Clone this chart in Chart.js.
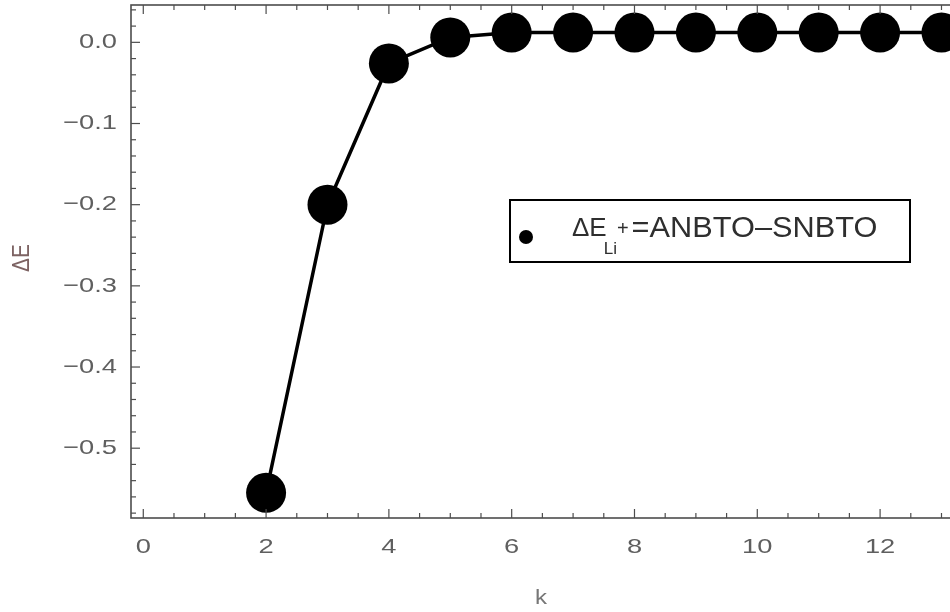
<!DOCTYPE html>
<html><head><meta charset="utf-8">
<script src="https://cdn.jsdelivr.net/npm/chart.js@4.4.1/dist/chart.umd.min.js"></script>
<style>html,body{margin:0;padding:0;background:#fff;overflow:hidden;}#wrap{width:950px;height:612px;position:relative;overflow:hidden;}canvas{display:block;}</style>
</head><body><div id="wrap"><canvas id="c" width="962" height="612"></canvas></div>
<script>
const kValues = [2, 3, 4, 5, 6, 7, 8, 9, 10, 11, 12, 13];
const deltaE = [-0.555, -0.200, -0.026, 0.006, 0.012, 0.012, 0.012, 0.012, 0.012, 0.012, 0.012, 0.012];
const xMajorTicks = [0, 2, 4, 6, 8, 10, 12];
const yMajorTicks = [0.0, -0.1, -0.2, -0.3, -0.4, -0.5];
const yTickLabels = ["0.0", "\u22120.1", "\u22120.2", "\u22120.3", "\u22120.4", "\u22120.5"];
const xTitle = "k";
const yTitle = "\u0394E";
const legendLabel = {main: "\u0394E", sub: "Li", sup: "+", rest: "=ANBTO\u2013SNBTO"};

const FONT = "'Liberation Sans', Arial, sans-serif";
const STRETCH = 1.3;

function stretchText(ctx, txt, x, y, size, align, color, sx) {
  ctx.save();
  ctx.font = size + "px " + FONT;
  ctx.fillStyle = color;
  ctx.textAlign = align;
  ctx.textBaseline = "middle";
  ctx.translate(x, y);
  ctx.scale(sx || STRETCH, 1);
  ctx.fillText(txt, 0, 0);
  ctx.restore();
}

const framePlugin = {
  id: 'frame',
  afterDraw(chart) {
    const ctx = chart.ctx;
    const xs = chart.scales.x, ys = chart.scales.y;
    const a = chart.chartArea;
    ctx.save();
    ctx.strokeStyle = '#4d4d4d';
    ctx.lineWidth = 1.6;
    ctx.strokeRect(a.left, a.top, a.right - a.left, a.bottom - a.top);
    ctx.lineWidth = 1.2;
    for (let i = 0; i <= 26; i++) {
      const v = i * 0.5;
      const px = xs.getPixelForValue(v);
      if (px < a.left || px > a.right) continue;
      const major = xMajorTicks.includes(v);
      const len = major ? 9 : 5;
      ctx.beginPath(); ctx.moveTo(px, a.bottom); ctx.lineTo(px, a.bottom - len); ctx.stroke();
      ctx.beginPath(); ctx.moveTo(px, a.top); ctx.lineTo(px, a.top + len); ctx.stroke();
    }
    for (let i = -30; i <= 3; i++) {
      const v = i * 0.02;
      const py = ys.getPixelForValue(v);
      if (py < a.top || py > a.bottom) continue;
      const major = (i % 5 === 0);
      const len = major ? 9 : 5;
      ctx.beginPath(); ctx.moveTo(a.left, py); ctx.lineTo(a.left + len, py); ctx.stroke();
      ctx.beginPath(); ctx.moveTo(a.right, py); ctx.lineTo(a.right - len, py); ctx.stroke();
    }
    ctx.restore();
    const tc = '#5f5f5f';
    xMajorTicks.forEach(v => {
      stretchText(ctx, String(v), xs.getPixelForValue(v), a.bottom + 29, 21, 'center', tc);
    });
    yMajorTicks.forEach((v, i) => {
      stretchText(ctx, yTickLabels[i], a.left - 14, ys.getPixelForValue(v), 21, 'right', tc);
    });
    stretchText(ctx, xTitle, 541, 598, 20, 'center', '#777', 1.2);
    ctx.save();
    ctx.translate(22, 258);
    ctx.rotate(-Math.PI / 2);
    ctx.font = "19px " + FONT;
    ctx.fillStyle = '#7d6363';
    ctx.textAlign = 'center'; ctx.textBaseline = 'middle';
    ctx.scale(1.1, 1.25);
    ctx.fillText(yTitle, 0, 0);
    ctx.restore();
    // legend box
    ctx.save();
    ctx.fillStyle = '#fff';
    ctx.fillRect(510, 200, 400, 62);
    ctx.strokeStyle = '#000'; ctx.lineWidth = 2;
    ctx.strokeRect(510, 200, 400, 62);
    ctx.fillStyle = '#000';
    ctx.beginPath(); ctx.arc(526, 237, 7, 0, Math.PI * 2); ctx.fill();
    ctx.restore();
    const lc = '#2e2e2e';
    const mainSize = 26, smallSize = 17, supSize = 20;
    ctx.save();
    ctx.font = mainSize + "px " + FONT;
    const wMain = ctx.measureText(legendLabel.main).width;
    ctx.font = smallSize + "px " + FONT;
    const wSub = ctx.measureText(legendLabel.sub).width;
    ctx.font = supSize + "px " + FONT;
    const wSup = ctx.measureText(legendLabel.sup).width;
    ctx.restore();
    const x0 = 572;
    stretchText(ctx, legendLabel.main, x0, 229, mainSize, 'left', lc, 1);
    const xs1 = x0 + wMain - 3;
    stretchText(ctx, legendLabel.sub, xs1, 249, smallSize, 'left', lc, 1);
    stretchText(ctx, legendLabel.sup, xs1 + wSub, 229, supSize, 'left', lc, 1);
    stretchText(ctx, legendLabel.rest, xs1 + wSub + wSup + 3, 229, 29, 'left', lc, 1.06);
  }
};

new Chart(document.getElementById('c'), {
  type: 'scatter',
  data: {
    datasets: [{
      label: 'dE',
      data: kValues.map((k, i) => ({x: k, y: deltaE[i]})),
      showLine: true,
      borderColor: '#000',
      borderWidth: 3.5,
      backgroundColor: '#000',
      pointRadius: 20,
      pointHoverRadius: 20,
      pointBorderWidth: 0,
      clip: 0
    }]
  },
  options: {
    responsive: false,
    animation: false,
    devicePixelRatio: 1,
    layout: {autoPadding: false, padding: {left: 131, top: 5, right: 0, bottom: 94}},
    plugins: {legend: {display: false}, tooltip: {enabled: false}},
    scales: {
      x: {type: 'linear', display: false, min: -0.2, max: 13.334},
      y: {type: 'linear', display: false, min: -0.586, max: 0.046}
    }
  },
  plugins: [framePlugin]
});
</script></body></html>
